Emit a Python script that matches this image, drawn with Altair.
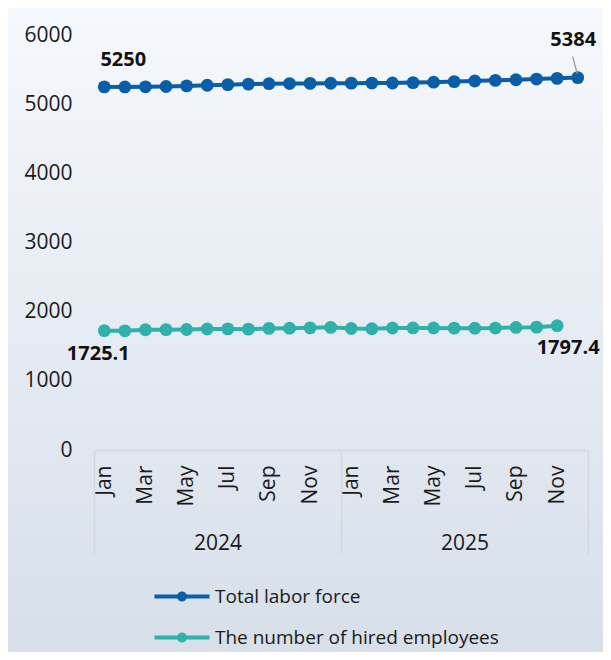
import altair as alt
import pandas as pd

months = ["Jan", "Feb", "Mar", "Apr", "May", "Jun", "Jul", "Aug", "Sep", "Oct", "Nov", "Dec"]
years = ["2024", "2025"]
series_names = ["Total labor force", "The number of hired employees"]
series_colors = ["#0a5ea8", "#2fb0ab"]

labor_force = [5250, 5249, 5251, 5256, 5264, 5273, 5282, 5290, 5296, 5298, 5300, 5303,
               5304, 5305, 5306, 5312, 5318, 5326, 5335, 5344, 5353, 5363, 5373, 5384]
hired = [1725.1, 1723, 1738, 1740, 1742, 1749, 1751, 1747, 1758, 1761, 1766, 1773,
         1756, 1753, 1764, 1765, 1765, 1762, 1761, 1763, 1772, 1776, 1797.4]

keys = [f"{y} {m}" for y in years for m in months]

rows = []
for s, vals in zip(series_names, [labor_force, hired]):
    for i, v in enumerate(vals):
        rows.append({"key": keys[i], "idx": i, "series": s, "value": v, "label": str(v)})
df = pd.DataFrame(rows)

W, H = 494, 415
PAD = {"left": 86, "top": 27, "right": 15, "bottom": 202}
FONT = "Open Sans"
TXT = "#1a1a1a"
AX_FS = 21

X = alt.X("key:N", sort=keys,
          scale=alt.Scale(domain=keys, type="point", padding=0.5),
          axis=alt.Axis(title=None, values=[k for k in keys if k.split(" ")[1] in months[::2]],
                        labelExpr="slice(datum.value, 5)", labelAngle=-90, labelPadding=15,
                        labelFontSize=AX_FS, labelColor=TXT, labelFont=FONT, zindex=2,
                        domain=False, ticks=False, grid=False, labelOverlap=False))
Y = alt.Y("value:Q", scale=alt.Scale(domain=[0, 6000], nice=False),
          axis=alt.Axis(title=None, values=[0, 1000, 2000, 3000, 4000, 5000, 6000], format="d",
                        labelFontSize=AX_FS, labelColor=TXT, labelFont=FONT, labelPadding=22,
                        domain=False, ticks=False, grid=False, zindex=2))

legend_path = ("M-5.5,-0.4 L5.5,-0.4 L5.5,0.4 L-5.5,0.4 Z "
               "M-1,0 A1,1 0 1,1 1,0 A1,1 0 1,1 -1,0 Z")
COLOR = alt.Color("series:N", scale=alt.Scale(domain=series_names, range=series_colors),
                  legend=alt.Legend(title=None, orient="none", legendX=78.5, legendY=552,
                                    direction="vertical", symbolType=legend_path,
                                    symbolSize=100, symbolStrokeWidth=0, labelOffset=23.5,
                                    symbolFillColor="#0a5ea8",
                                    labelFontSize=19, labelFont=FONT, labelColor=TXT,
                                    labelLimit=500, rowPadding=21, padding=0, zindex=2))

bg = alt.Chart(alt.Data(values=[{"a": 1}])).mark_rect(
    color=alt.LinearGradient(gradient="linear",
                             stops=[alt.GradientStop(color="#f5f8fc", offset=0),
                                    alt.GradientStop(color="#d7dfe9", offset=1)],
                             x1=0, x2=0, y1=0, y2=1)
).encode(x=alt.value(-PAD["left"]), x2=alt.value(W + PAD["right"]),
         y=alt.value(-PAD["top"]), y2=alt.value(H + PAD["bottom"]))

lines = alt.Chart(df).mark_line(strokeWidth=4).encode(
    x=X, y=Y, order=alt.Order("idx:Q"), color=COLOR)

points = alt.Chart(df).mark_circle(size=165, opacity=1).encode(x=X, y=Y, color=COLOR)


def annotation(series, key, dx, dy):
    return alt.Chart(df).transform_filter(
        (alt.datum.series == series) & (alt.datum.key == key)
    ).mark_text(dx=dx, dy=dy, fontSize=20, fontWeight="bold", font=FONT, color="#111111",
                baseline="middle").encode(x=X, y=Y, text="label:N")


ann1 = annotation(series_names[0], keys[0], 19, -27)
ann2 = annotation(series_names[0], keys[23], -4.5, -38)
ann3 = annotation(series_names[1], keys[0], -6, 23)
ann4 = annotation(series_names[1], keys[22], 11, 22)

leader = alt.Chart(df).transform_filter(
    (alt.datum.series == series_names[0]) & (alt.datum.key == keys[23])
).mark_rule(color="#9a9a9a", strokeWidth=1.3, xOffset=-5, yOffset=-21, x2Offset=-0.5, y2Offset=-4
).encode(x=X, y=Y, x2=alt.X2("key:N"), y2=alt.Y2("value:Q"))

inner = alt.layer(bg, lines, points, leader, ann1, ann2, ann3, ann4)

year_chart = alt.Chart(pd.DataFrame({"year": years})).mark_point(opacity=0).encode(
    x=alt.X("year:N", sort=years,
            scale=alt.Scale(domain=years, type="band", paddingInner=0, paddingOuter=0),
            axis=alt.Axis(title=None, orient="bottom", tickBand="extent", tickSize=104,
                          tickColor="#d2d8df", tickWidth=1.5, domainColor="#d2d8df",
                          domainWidth=1.5, labelPadding=-22, labelAngle=0, labelFontSize=AX_FS,
                          labelFont=FONT, labelColor=TXT, grid=False, labelBaseline="top",
                          zindex=2))
)

chart = alt.layer(inner, year_chart).resolve_scale(x="independent").properties(
    width=W, height=H, padding=PAD, autosize=alt.AutoSizeParams(type="none"),
    background="#e6ecf2"
).configure_view(stroke=None).configure(font=FONT)

chart.save("out.html", embed_options={"renderer": "svg", "actions": False})
